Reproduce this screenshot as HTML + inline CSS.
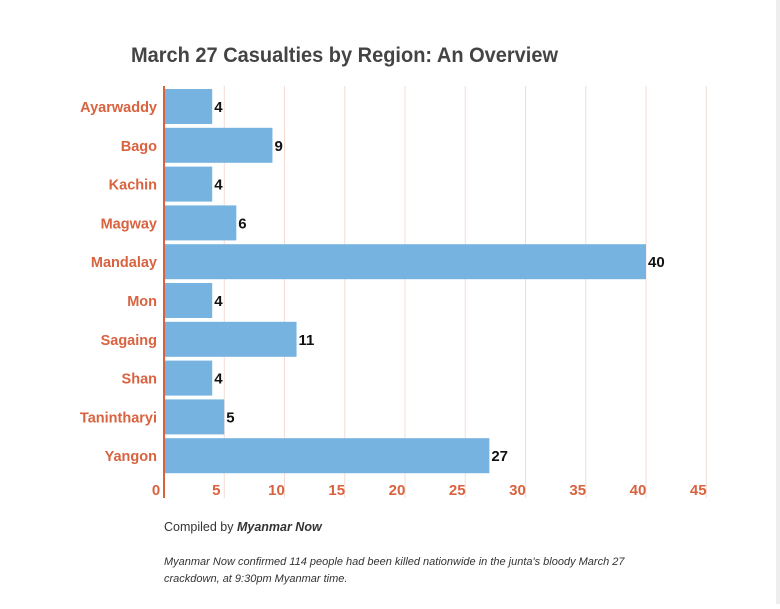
<!DOCTYPE html>
<html><head><meta charset="utf-8"><style>
body{margin:0;background:#fff;width:780px;height:604px;overflow:hidden;font-family:"Liberation Sans",sans-serif;}
</style></head><body>
<svg width="780" height="604" xmlns="http://www.w3.org/2000/svg">
<rect x="776" y="0" width="4" height="604" fill="#eee"/>
<text x="131" y="62" font-size="21" font-weight="bold" fill="#444" textLength="427" lengthAdjust="spacingAndGlyphs">March 27 Casualties by Region: An Overview</text>
<g id="grid"></g><g id="bars"></g><g id="xt"></g>
<line x1="164" y1="86" x2="164" y2="498" stroke="#d9623f" stroke-width="2"/>
<text x="164" y="531" font-size="12.5" fill="#333">Compiled by <tspan font-weight="bold" font-style="italic">Myanmar Now</tspan></text>
<text x="164" y="565" font-size="11" font-style="italic" fill="#333">Myanmar Now confirmed 114 people had been killed nationwide in the junta's bloody March 27</text>
<text x="164" y="582" font-size="11" font-style="italic" fill="#333">crackdown, at 9:30pm Myanmar time.</text>
</svg>
<script>
const categories=["Ayarwaddy","Bago","Kachin","Magway","Mandalay","Mon","Sagaing","Shan","Tanintharyi","Yangon"];
const values=[4,9,4,6,40,4,11,4,5,27];
const ticks=[0,5,10,15,20,25,30,35,40,45];
const NS="http://www.w3.org/2000/svg";
const x=v=>164+v*12.05;
const y=i=>89+i*38.8;
function mk(t,a,p){const e=document.createElementNS(NS,t);for(const k in a)e.setAttribute(k,a[k]);p.appendChild(e);return e;}
const G=document.getElementById('grid'),B=document.getElementById('bars'),X=document.getElementById('xt');
ticks.forEach(t=>{
 if(t>0){const l=mk('line',{x1:x(t),x2:x(t),y1:86,y2:498,stroke:'#f3dcd6','stroke-width':1},G);
 
 }
 const tx=mk('text',{x:x(t)-8,y:495,'font-size':15,'font-weight':'bold',fill:'#d9623f','text-anchor':'middle'},X);
 tx.textContent=t;
 
 
});
categories.forEach((c,i)=>{
 const r=mk('rect',{x:165,y:y(i),width:x(values[i])-165,height:35,fill:'#76b3e0'},B);
 
 
 const v=mk('text',{x:x(values[i])+2,y:y(i)+23,'font-size':15,'font-weight':'bold',fill:'#111'},B);
 v.textContent=values[i];
 
 
 const lb=mk('text',{x:157,y:y(i)+23,'font-size':14.5,'font-weight':'bold',fill:'#d9623f','text-anchor':'end'},B);
 lb.textContent=c;
 
 
});
</script>
</body></html>
